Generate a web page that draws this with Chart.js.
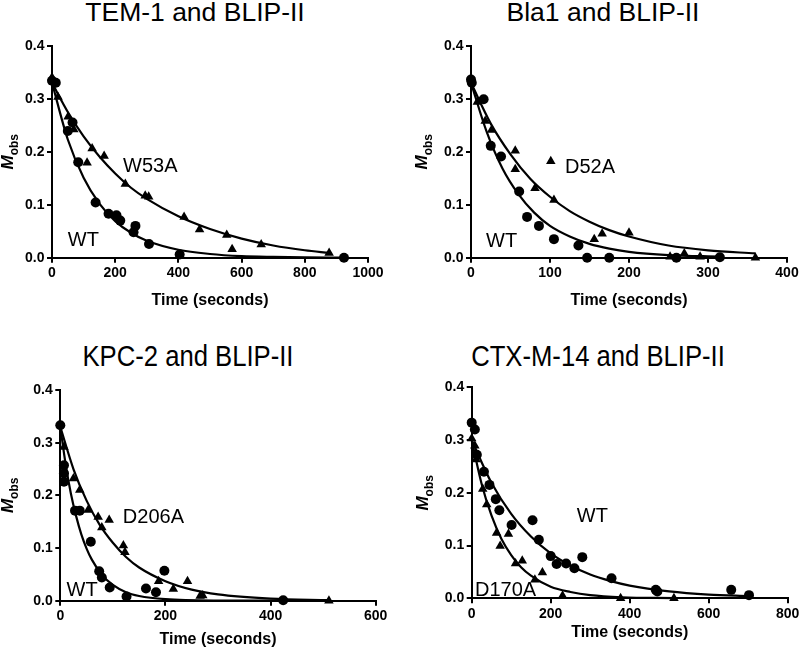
<!DOCTYPE html>
<html>
<head>
<meta charset="utf-8">
<script src="https://cdn.jsdelivr.net/npm/chart.js@4.4.1/dist/chart.umd.min.js"></script>
<style>
body { margin: 0; width: 800px; height: 652px; overflow: hidden; background: #fff; position: relative; font-family: "Liberation Sans", Arial, sans-serif; }
.panel { position: absolute; }
.title { position: absolute; white-space: nowrap; color: #000; line-height: 1; }
</style>
</head>
<body>
<div class="title" style="left:195px; top:-1.4px; font-size:26.5px; transform:translateX(-50%)">TEM-1 and BLIP-II</div>
<div class="title" style="left:603px; top:-1.4px; font-size:26.5px; transform:translateX(-50%)">Bla1 and BLIP-II</div>
<div class="title" style="left:188px; top:340.6px; font-size:30px; transform:translateX(-50%) scaleX(0.855)">KPC-2 and BLIP-II</div>
<div class="title" style="left:598px; top:340.6px; font-size:30px; transform:translateX(-50%) scaleX(0.855)">CTX-M-14 and BLIP-II</div>

<div class="panel" style="left:0; top:30px; width:400px; height:300px"><canvas id="tem"></canvas></div>
<div class="panel" style="left:400px; top:30px; width:412px; height:300px"><canvas id="bla"></canvas></div>
<div class="panel" style="left:0; top:372px; width:400px; height:280px"><canvas id="kpc"></canvas></div>
<div class="panel" style="left:400px; top:372px; width:412px; height:280px"><canvas id="ctx"></canvas></div>

<script>
// TEM-1 (WT circles, W53A triangles)
const temWtTime = [0, 12, 50, 65, 83, 138, 179, 204, 216, 258, 264, 307, 404, 924];
const temWtMobs = [0.334, 0.330, 0.239, 0.255, 0.180, 0.104, 0.083, 0.080, 0.070, 0.048, 0.060, 0.026, 0.006, 0.0];
const temMutTime = [0, 19, 51, 69, 111, 127, 165, 232, 295, 306, 418, 467, 553, 570, 662, 877];
const temMutMobs = [0.340, 0.303, 0.266, 0.242, 0.179, 0.206, 0.192, 0.139, 0.117, 0.115, 0.077, 0.053, 0.043, 0.016, 0.025, 0.009];
const temWtFitTime = [0, 50, 100, 150, 200, 250, 300, 400, 500, 600, 700, 800, 920];
const temWtFitMobs = [0.330, 0.223, 0.151, 0.102, 0.069, 0.047, 0.032, 0.015, 0.007, 0.003, 0.0015, 0.0007, 0.0003];
const temMutFitTime = [0, 50, 100, 150, 200, 250, 300, 400, 500, 600, 700, 800, 877];
const temMutFitMobs = [0.330, 0.275, 0.229, 0.191, 0.159, 0.132, 0.111, 0.078, 0.054, 0.036, 0.023, 0.014, 0.009];

// Bla1 (WT circles, D52A triangles)
const blaWtTime = [0, 1, 16, 25, 38, 61, 71, 86, 105, 136, 147, 175, 260, 315];
const blaWtMobs = [0.336, 0.330, 0.299, 0.211, 0.191, 0.125, 0.077, 0.060, 0.035, 0.023, 0.0, 0.0, 0.0, 0.001];
const blaMutTime = [0, 8, 18, 26, 56, 56, 81, 101, 105, 156, 166, 200, 252, 270, 290, 360];
const blaMutMobs = [0.336, 0.294, 0.258, 0.241, 0.202, 0.167, 0.131, 0.182, 0.109, 0.035, 0.045, 0.047, 0.002, 0.008, 0.002, 0.0];
const blaWtFitTime = [0, 20, 40, 60, 80, 100, 125, 150, 175, 200, 250, 315];
const blaWtFitMobs = [0.330, 0.237, 0.168, 0.120, 0.085, 0.060, 0.040, 0.026, 0.017, 0.011, 0.005, 0.002];
const blaMutFitTime = [0, 25, 50, 75, 100, 125, 150, 175, 200, 250, 300, 360];
const blaMutFitMobs = [0.330, 0.253, 0.195, 0.149, 0.115, 0.088, 0.068, 0.052, 0.040, 0.023, 0.014, 0.008];

// KPC-2 (WT circles, D206A triangles)
const kpcWtTime = [0, 7, 7, 7, 28, 37, 58, 74, 79, 94, 126, 163, 182, 198, 424];
const kpcWtMobs = [0.333, 0.257, 0.242, 0.226, 0.171, 0.171, 0.112, 0.056, 0.044, 0.025, 0.008, 0.023, 0.016, 0.057, 0.001];
const kpcMutTime = [7, 25, 37, 53, 72, 79, 93, 120, 123, 187, 215, 242, 266, 271, 511];
const kpcMutMobs = [0.292, 0.232, 0.210, 0.172, 0.159, 0.139, 0.153, 0.105, 0.092, 0.037, 0.022, 0.037, 0.009, 0.010, 0.0];
const kpcWtFitTime = [0, 10, 20, 30, 40, 50, 60, 80, 100, 125, 150, 200, 300, 424];
const kpcWtFitMobs = [0.330, 0.260, 0.204, 0.161, 0.126, 0.099, 0.078, 0.048, 0.030, 0.016, 0.009, 0.003, 0.0003, 0.0];
const kpcMutFitTime = [0, 25, 50, 75, 100, 125, 150, 200, 250, 300, 400, 511];
const kpcMutFitMobs = [0.330, 0.250, 0.190, 0.144, 0.110, 0.083, 0.063, 0.037, 0.021, 0.012, 0.004, 0.001];

// CTX-M-14 (WT circles, D170A triangles)
const ctxWtTime = [0, 8, 13, 31, 45, 61, 70, 101, 154, 170, 200, 215, 239, 260, 280, 354, 466, 470, 657, 702];
const ctxWtMobs = [0.333, 0.320, 0.272, 0.240, 0.215, 0.188, 0.167, 0.139, 0.148, 0.111, 0.080, 0.065, 0.066, 0.057, 0.078, 0.038, 0.016, 0.013, 0.016, 0.006];
const ctxMutTime = [0, 8, 11, 28, 38, 63, 72, 93, 111, 128, 160, 179, 230, 377, 512];
const ctxMutMobs = [0.303, 0.289, 0.263, 0.207, 0.178, 0.124, 0.099, 0.122, 0.066, 0.071, 0.035, 0.049, 0.005, 0.0, 0.0];
const ctxWtFitTime = [0, 50, 100, 150, 200, 250, 300, 350, 400, 500, 600, 702];
const ctxWtFitMobs = [0.300, 0.219, 0.160, 0.117, 0.085, 0.062, 0.045, 0.033, 0.024, 0.013, 0.007, 0.004];
const ctxMutFitTime = [0, 25, 50, 75, 100, 125, 150, 200, 250, 300, 380, 512];
const ctxMutFitMobs = [0.300, 0.217, 0.157, 0.113, 0.082, 0.059, 0.043, 0.022, 0.012, 0.006, 0.002, 0.0005];

const yTicks = [0, 0.1, 0.2, 0.3, 0.4];
const FONT = '"Liberation Sans", Arial, sans-serif';
Chart.defaults.font.family = FONT;
Chart.defaults.color = '#000';

function pts(t, v) {
	return t.map((x, i) => ({ x: x, y: v[i] }));
}

function marks(t, v, style, r) {
	return { data: pts(t, v), pointStyle: style, pointRadius: r, pointBackgroundColor: '#000', pointBorderWidth: 0, showLine: false, clip: false };
}

function fitLine(t, v) {
	return { data: pts(t, v), showLine: true, pointRadius: 0, borderColor: '#000', borderWidth: 2.2, cubicInterpolationMode: 'monotone', fill: false, clip: false };
}

// text labels + rotated M(obs) axis title
const annotate = {
	id: 'annotate',
	afterDatasetsDraw(chart, args, opts) {
		const { ctx, chartArea } = chart;
		const x = chart.scales.x, y = chart.scales.y;
		ctx.save();
		ctx.fillStyle = '#000';
		ctx.font = '20px ' + FONT;
		ctx.textBaseline = 'middle';
		ctx.textAlign = 'left';
		opts.labels.forEach(l => ctx.fillText(l.text, x.getPixelForValue(l.t), y.getPixelForValue(l.v)));

		ctx.translate(opts.yLabelX, (chartArea.top + chartArea.bottom) / 2);
		ctx.rotate(-Math.PI / 2);
		ctx.textBaseline = 'alphabetic';
		ctx.font = 'italic bold 17px ' + FONT;
		const wM = ctx.measureText('M').width;
		ctx.font = 'bold 12px ' + FONT;
		const wS = ctx.measureText('obs').width;
		const start = -(wM + wS) / 2;
		ctx.font = 'italic bold 17px ' + FONT;
		ctx.fillText('M', start, 0);
		ctx.font = 'bold 12px ' + FONT;
		ctx.fillText('obs', start + wM, 5);
		ctx.restore();
	}
};

function makePanel(id, p) {
	new Chart(document.getElementById(id), {
		type: 'scatter',
		data: {
			datasets: [
				marks(p.wt[0], p.wt[1], 'circle', 5),
				marks(p.mut[0], p.mut[1], 'triangle', 5.5),
				fitLine(p.wtFit[0], p.wtFit[1]),
				fitLine(p.mutFit[0], p.mutFit[1])
			]
		},
		options: {
			responsive: true,
			maintainAspectRatio: false,
			animation: false,
			layout: { padding: p.pad },
			plugins: {
				legend: { display: false },
				tooltip: { enabled: false },
				annotate: { labels: p.labels, yLabelX: p.yLabelX }
			},
			scales: {
				x: {
					type: 'linear', min: 0, max: p.xMax,
					ticks: { stepSize: p.xStep, font: { size: 14, weight: 'bold' }, color: '#000', padding: 2.2, maxRotation: 0, callback: v => String(v) },
					grid: { drawOnChartArea: false, tickLength: 5, color: '#000', lineWidth: 2 },
					border: { color: '#000', width: 2 },
					title: { display: true, text: 'Time (seconds)', font: { size: 16, weight: 'bold' }, color: '#000', padding: { top: 0, bottom: p.xtPad } },
					afterFit: s => { s.height = p.xh; }
				},
				y: {
					type: 'linear', min: 0, max: 0.4,
					afterBuildTicks: s => { s.ticks = yTicks.map(v => ({ value: v })); },
					ticks: { font: { size: 14, weight: 'bold' }, color: '#000', padding: 2.5, callback: v => v.toFixed(1) },
					grid: { drawOnChartArea: false, tickLength: 5, color: '#000', lineWidth: 2 },
					border: { color: '#000', width: 2 },
					afterFit: s => { s.width = p.yw; }
				}
			}
		},
		plugins: [annotate]
	});
}

makePanel('tem', {
	wt: [temWtTime, temWtMobs], mut: [temMutTime, temMutMobs],
	wtFit: [temWtFitTime, temWtFitMobs], mutFit: [temMutFitTime, temMutFitMobs],
	xMax: 1000, xStep: 200,
	pad: { left: 0, top: 15.7, right: 32, bottom: 12.3 }, yw: 52, xh: 60, xtPad: 7.8, yLabelX: 13,
	labels: [{ text: 'W53A', t: 225, v: 0.173 }, { text: 'WT', t: 50, v: 0.032 }]
});

makePanel('bla', {
	wt: [blaWtTime, blaWtMobs], mut: [blaMutTime, blaMutMobs],
	wtFit: [blaWtFitTime, blaWtFitMobs], mutFit: [blaMutFitTime, blaMutFitMobs],
	xMax: 400, xStep: 100,
	pad: { left: 0, top: 15.7, right: 25, bottom: 12.3 }, yw: 71, xh: 60, xtPad: 7.8, yLabelX: 27,
	labels: [{ text: 'D52A', t: 119, v: 0.171 }, { text: 'WT', t: 19, v: 0.030 }]
});

makePanel('kpc', {
	wt: [kpcWtTime, kpcWtMobs], mut: [kpcMutTime, kpcMutMobs],
	wtFit: [kpcWtFitTime, kpcWtFitMobs], mutFit: [kpcMutFitTime, kpcMutFitMobs],
	xMax: 600, xStep: 200,
	pad: { left: 0, top: 18, right: 24.3, bottom: 0 }, yw: 60.3, xh: 51.3, xtPad: 2.9, yLabelX: 13,
	labels: [{ text: 'D206A', t: 119, v: 0.158 }, { text: 'WT', t: 12, v: 0.020 }]
});

makePanel('ctx', {
	wt: [ctxWtTime, ctxWtMobs], mut: [ctxMutTime, ctxMutMobs],
	wtFit: [ctxWtFitTime, ctxWtFitMobs], mutFit: [ctxMutFitTime, ctxMutFitMobs],
	xMax: 800, xStep: 200,
	pad: { left: 0, top: 15.3, right: 24.3, bottom: 0 }, yw: 71.7, xh: 53.7, xtPad: 9.4, yLabelX: 28,
	labels: [{ text: 'WT', t: 266, v: 0.156 }, { text: 'D170A', t: 8.4, v: 0.014 }]
});
</script>
</body>
</html>
